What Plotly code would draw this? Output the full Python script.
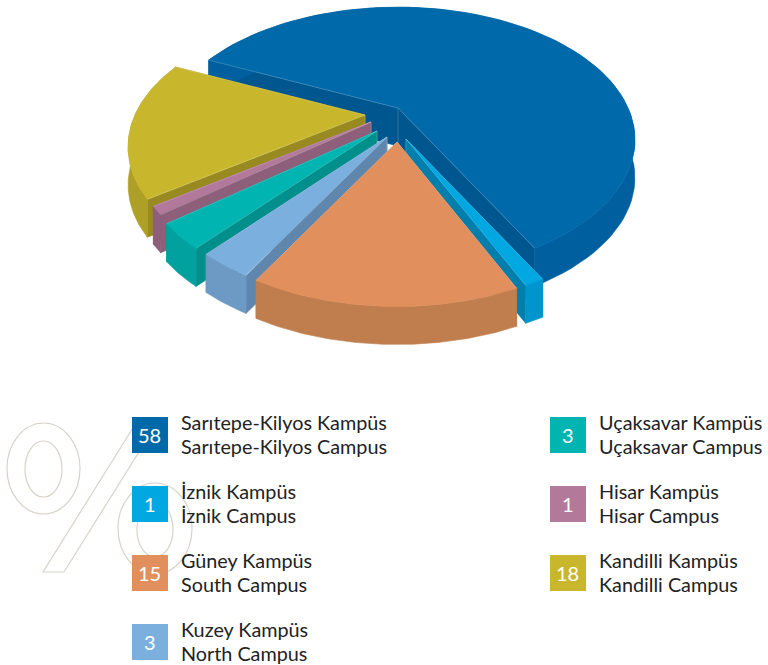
import numpy as np
import plotly.graph_objects as go

# ---- data ----
names_tr = ["Sarıtepe-Kilyos Kampüs", "İznik Kampüs", "Güney Kampüs", "Kuzey Kampüs",
            "Uçaksavar Kampüs", "Hisar Kampüs", "Kandilli Kampüs"]
names_en = ["Sarıtepe-Kilyos Campus", "İznik Campus", "South Campus", "North Campus",
            "Uçaksavar Campus", "Hisar Campus", "Kandilli Campus"]
# the percentages printed in the legend
values = [58, 1, 15, 3, 3, 1, 18]
# the share of the circle each wedge takes in the picture (the drawing is not exactly to the printed numbers)
wedge_share = [60.3, 1.1, 14.7, 3.05, 3.05, 1.0, 16.8]

# ---- style ----
top_col = ["#0069AA", "#00A7E0", "#E08F5D", "#7BAFDE", "#00B5B1", "#B2799B", "#C8B72D"]
rim_col = ["#005F9E", "#0095CC", "#C07E4E", "#6D9AC4", "#00A19E", "#8D5F7A", "#AE9F27"]
cut_col = ["#00578F", "#007FAD", "#B0734A", "#5F87AD", "#008F8B", "#8D5F7A", "#988A20"]
explode = [(0, 0), (8, 31), (-1, 34), (-11, 29), (-21, 23), (-27, 14), (-33, 7)]
draw_order = [0, 6, 5, 4, 3, 1, 2]
legend_x = [132, 132, 132, 132, 550, 550, 550]
legend_y = [417, 486, 555, 624, 417, 486, 555]
FONT = "Lato"
TEXT = "#222222"
START = -65.0
CX, CY, A, B, P, DEPTH = 398, 108, 230, 125, 0.24, 38


def project(theta, r, off, drop=0.0):
    t = np.radians(np.asarray(theta, dtype=float))
    X, Y = r * np.sin(t), -r * np.cos(t)
    w = 1 - P * Y
    return CX + off[0] + A * X / w, CY + off[1] + B * Y / w + drop


def poly(xs, ys, color):
    return go.Scatter(x=list(xs) + [xs[0]], y=list(ys) + [ys[0]], mode="lines", fill="toself",
                      fillcolor=color, line=dict(color=color, width=0.6),
                      hoverinfo="skip", showlegend=False)


def edge(xs, ys):
    return go.Scatter(x=xs, y=ys, mode="lines", line=dict(color="rgba(255,255,255,0.28)", width=0.7),
                      hoverinfo="skip", showlegend=False)


fig = go.Figure()
edges = START + np.concatenate([[0], np.cumsum(wedge_share)]) * 360 / sum(wedge_share)

for i in draw_order:
    a0, a1 = edges[i], edges[i + 1]
    off = explode[i]
    arc = np.linspace(a0, a1, 90)
    tx, ty = project(arc, 1.0, off)
    bx, by = project(arc, 1.0, off, DEPTH)
    ax, ay = project([0.0], 0.0, off)
    # cut faces
    for end in (0, -1):
        fig.add_trace(poly([ax[0], tx[end], bx[end], ax[0]], [ay[0], ty[end], by[end], ay[0] + DEPTH], cut_col[i]))
    fig.add_trace(edge([ax[0], ax[0]], [ay[0], ay[0] + DEPTH]))
    # outer wall
    fig.add_trace(poly(np.r_[tx, bx[::-1]], np.r_[ty, by[::-1]], rim_col[i]))
    # top face
    fig.add_trace(poly(np.r_[ax, tx], np.r_[ay, ty], top_col[i]))
    # light seams along the cut edges
    fig.add_trace(edge([tx[0], ax[0], tx[-1]], [ty[0], ay[0], ty[-1]]))

shapes = []
pct = dict(type="circle", xref="x", yref="y", line=dict(color="#D8D3CA", width=1.2), layer="below")
for x0, y0, x1, y1 in [(7, 423, 80, 514), (25, 441, 62, 497), (118, 483, 192, 574), (137, 502, 173, 557)]:
    shapes.append(dict(pct, x0=x0, y0=y0, x1=x1, y1=y1))
shapes.append(dict(type="path", path="M 43 572 L 64 572 L 157 423 L 136 423 Z", xref="x", yref="y",
                   line=dict(color="#D8D3CA", width=1.2), layer="below"))
for i in range(len(values)):
    shapes.append(dict(type="rect", x0=legend_x[i], x1=legend_x[i] + 36, y0=legend_y[i], y1=legend_y[i] + 36,
                       xref="x", yref="y", fillcolor=top_col[i], line=dict(width=0), layer="below"))

ann = []
for i, v in enumerate(values):
    lx, ly = legend_x[i], legend_y[i]
    ann.append(dict(x=lx + 17.5, y=ly + 18, text=str(v), showarrow=False, xref="x", yref="y",
                    font=dict(family=FONT, size=20, color="white"), xanchor="center", yanchor="middle"))
    for txt, dy in ((names_tr[i], 4.5), (names_en[i], 28.5)):
        ann.append(dict(x=lx + 48, y=ly + dy, text=txt, showarrow=False, xref="x", yref="y",
                        font=dict(family=FONT, size=19.8, color=TEXT), xanchor="left", yanchor="middle",
                        borderpad=0))

fig.update_layout(width=768, height=665, margin=dict(l=0, r=0, t=0, b=0), autosize=False,
                  paper_bgcolor="white", plot_bgcolor="rgba(0,0,0,0)", shapes=shapes, annotations=ann,
                  xaxis=dict(range=[0, 768], visible=False, fixedrange=True),
                  yaxis=dict(range=[665, 0], visible=False, fixedrange=True))
fig.write_html("out.html", post_script="document.body.style.margin='0';",
               config=dict(displayModeBar=False))
